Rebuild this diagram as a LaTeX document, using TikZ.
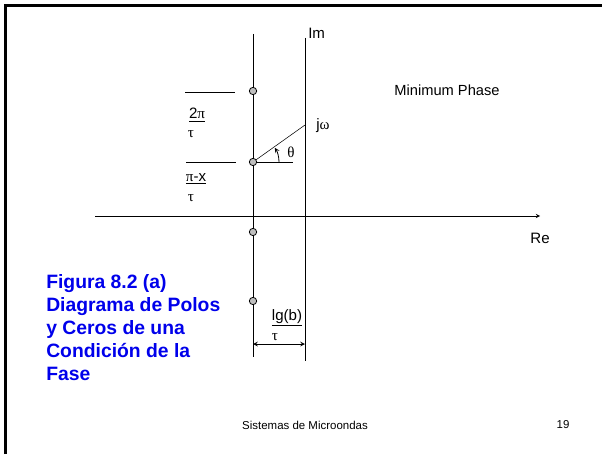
\documentclass[tikz,border=0pt]{standalone}
\usepackage{fontspec}
\setmainfont{Liberation Sans}
\newfontfamily\grk{Liberation Serif}
\usetikzlibrary{positioning}
\definecolor{capblue}{RGB}{0,0,235}
\definecolor{polegray}{RGB}{190,190,190}
\tikzset{
line width=0.7pt, % All lines thin
>=stealth, % All arrows with stealth tick
my pole/.style={draw,circle,fill=polegray,inner sep=0pt,minimum size=5.5pt,line width=0.6pt},
my label/.style={inner sep=0pt,font=\fontsize{11.3}{13}\selectfont},
my title/.style={inner sep=0pt,font=\fontsize{11}{13}\selectfont},
my foot/.style={inner sep=0pt,font=\fontsize{8.6}{10}\selectfont},
my caption/.style={inner sep=0pt,align=left,text=capblue,
  font=\fontsize{14.5}{17.25}\selectfont\bfseries},
}

\begin{document}
\begin{tikzpicture}[x=0.75pt,y=0.75pt]
\useasboundingbox (0,0) rectangle (602,454);
% frame
\draw[line width=1.9pt] (5.5,0) -- (5.5,448.5) -- (602,448.5);
% axes and the vertical line of poles
\coordinate (ltop) at (253,420);
\coordinate (lbot) at (253,97);
\coordinate (imtop) at (305,416);
\coordinate (imbot) at (305,93);
\coordinate (xl) at (95,238);
\coordinate (xr) at (540,238);
\draw (ltop) -- (lbot);
\draw (imtop) -- (imbot);
\draw[->] (xl) -- (xr);
\node[my label,anchor=west] (im) at (308,421) {Im};
\node[my label] (re) at (540,216) {Re};
% ticks
\coordinate (t1a) at (185,362);
\coordinate (t1b) at (235,362);
\coordinate (t2a) at (186,292);
\coordinate (t2b) at (236,292);
\draw (t1a) -- (t1b);
\draw (t2a) -- (t2b);
% phase line and angle
\coordinate (jw) at (305,329);
\coordinate (hz) at (293,292);
\draw (253,292) -- (jw);
\draw (253,292) -- (hz);
\draw[->,line width=0.6pt] ([shift={(0:19.5pt)}]253,292) arc[start angle=0,end angle=33,radius=19.5pt];
\node[my label,anchor=west] (jwl) at (316,328) {j{\grk ω}};
\node[my label] (th) at (291,302) {\grk θ};
% poles
\node[my pole] (p1) at (253,363) {};
\node[my pole] (p2) at (253,292) {};
\node[my pole] (p3) at (253,222) {};
\node[my pole] (p4) at (253,153) {};
% fractions
\node[my label] (f1n) at (197,339) {\underline{2{\grk π}}};
\node[my label] (f1d) at (191,320) {\grk τ};
\node[my label] (f2n) at (196,275) {\underline{{\grk π}-x}};
\node[my label] (f2d) at (191,256) {\grk τ};
\node[my label] (f3n) at (287,136) {\underline{lg(b)}};
\node[my label] (f3d) at (275,117) {\grk τ};
\coordinate (dl) at (253,110);
\coordinate (dr) at (305,110);
\draw[<->,line width=0.6pt] (dl) -- (dr);
% texts
\node[my title] (mp) at (447,364) {Minimum Phase};
\node[my caption,anchor=north west] (cap) at (46,180)
  {Figura 8.2 (a)\\Diagrama de Polos\\y Ceros de una\\Condición de la\\Fase};
\node[my foot] (foot) at (305,29) {Sistemas de Microondas};
\node[my foot] (page) at (563,29) {19};
\end{tikzpicture}
\end{document}
